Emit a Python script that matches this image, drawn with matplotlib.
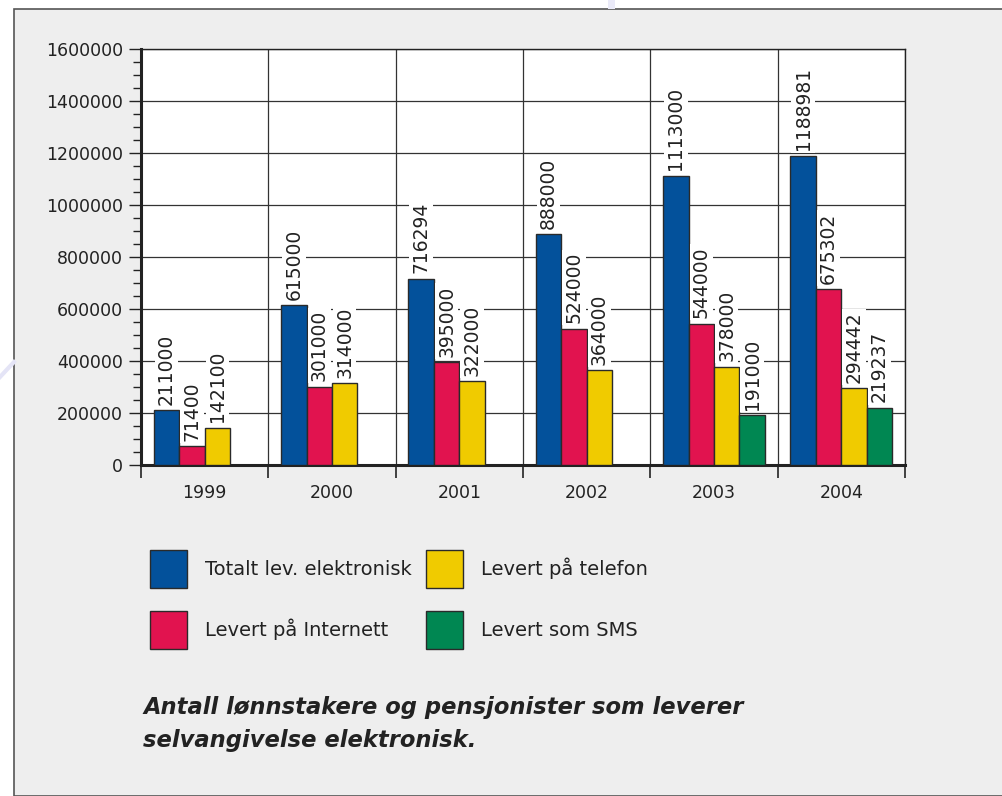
import matplotlib
matplotlib.use("Agg")
import matplotlib.pyplot as plt
from matplotlib.patches import Rectangle
from matplotlib.lines import Line2D
import numpy as np

years = ["1999", "2000", "2001", "2002", "2003", "2004"]
series_names = ["Totalt lev. elektronisk", "Levert på Internett", "Levert på telefon", "Levert som SMS"]
totalt = [211000, 615000, 716294, 888000, 1113000, 1188981]
internett = [71400, 301000, 395000, 524000, 544000, 675302]
telefon = [142100, 314000, 322000, 364000, 378000, 294442]
sms = [None, None, None, None, 191000, 219237]
colors = ["#03519b", "#e1134f", "#f0cb00", "#008752"]
yticks = [0, 200000, 400000, 600000, 800000, 1000000, 1200000, 1400000, 1600000]
caption = "Antall lønnstakere og pensjonister som leverer\nselvangivelse elektronisk."

W, H = 1003, 796
fig = plt.figure(figsize=(W / 100, H / 100), dpi=100)
fig.patch.set_facecolor("white")

# gray panel
fig.add_artist(Rectangle((14 / W, 0), 1.0, 1 - 9 / H, transform=fig.transFigure,
                         facecolor="#eeeeee", edgecolor="#555555", linewidth=1.2, zorder=0))
# faint decorations
fig.add_artist(Line2D([0, 14 / W], [1 - 377 / H, 1 - 362 / H], transform=fig.transFigure,
                      color="#e4e4f6", linewidth=3, zorder=0))
fig.add_artist(Rectangle((608 / W, 1 - 9 / H), 7 / W, 9 / H, transform=fig.transFigure,
                         facecolor="#eaeaf8", edgecolor="none", zorder=0))

ax = fig.add_axes([141 / W, 1 - 465 / H, (905 - 141) / W, (465 - 49) / H])
ax.set_facecolor("white")

all_series = [totalt, internett, telefon, sms]
x = np.arange(len(years))
bw = 0.2
for j, (vals, c) in enumerate(zip(all_series, colors)):
    for i, v in enumerate(vals):
        if v is None:
            continue
        xc = x[i] + 0.1 + bw * j + bw / 2
        ax.bar(xc, v, width=bw, color=c, edgecolor="#2a2a2a", linewidth=1.0, zorder=3)
        ax.annotate(str(v), (xc, v), xytext=(0, 4), textcoords="offset points",
                    rotation=90, ha="center", va="bottom", fontsize=13.5, color="#222222",
                    bbox=dict(boxstyle="square,pad=0.12", facecolor="white", edgecolor="none"),
                    zorder=4)

ax.set_xlim(0, len(years))
ax.set_ylim(0, 1600000)
ax.set_yticks(yticks)
ax.set_yticklabels([str(t) for t in yticks])
ax.set_yticks(np.arange(0, 1600001, 50000), minor=True)
ax.set_xticks(np.arange(0, len(years) + 1))
ax.set_xticklabels([])
ax.set_xticks(x + 0.5, minor=True)
ax.set_xticklabels(years, minor=True)

ax.tick_params(axis="y", which="major", length=9, width=1, labelsize=12.5, pad=4, colors="#222222")
ax.tick_params(axis="y", which="minor", length=6, width=1, colors="#222222")
ax.tick_params(axis="x", which="major", length=9, width=1.2, colors="#222222")
ax.tick_params(axis="x", which="minor", length=0, labelsize=12.5, pad=14, colors="#222222")

ax.grid(True, axis="y", which="major", color="#333333", linewidth=0.9, zorder=1)
ax.grid(True, axis="x", which="major", color="#333333", linewidth=0.9, zorder=1)
ax.set_axisbelow(True)

for s in ["top", "right"]:
    ax.spines[s].set_linewidth(1.0)
    ax.spines[s].set_color("#222222")
for s in ["left", "bottom"]:
    ax.spines[s].set_linewidth(2.2)
    ax.spines[s].set_color("#222222")

handles = [Rectangle((0, 0), 1, 1, facecolor=c, edgecolor="#2a2a2a", linewidth=1.0) for c in colors]
leg = fig.legend(handles, series_names, ncol=2, loc="upper left",
                 bbox_to_anchor=(150 / W, 1 - 550 / H), frameon=False, fontsize=14,
                 handlelength=1.9, handleheight=2.6, handletextpad=0.95,
                 labelspacing=1.2, columnspacing=0.7, borderpad=0, borderaxespad=0)
for t in leg.get_texts():
    t.set_color("#222222")

fig.text(143 / W, 1 - 696 / H, caption, ha="left", va="top", fontsize=16.3,
         fontweight="bold", fontstyle="italic", color="#222222", linespacing=1.55)

fig.savefig("out.png", dpi=100, facecolor=fig.get_facecolor())
